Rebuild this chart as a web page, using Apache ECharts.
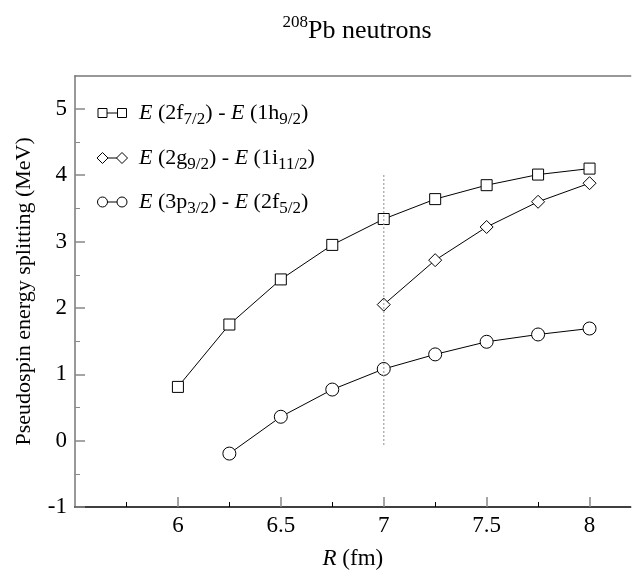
<!DOCTYPE html>
<html><head><meta charset="utf-8">
<script src="https://cdn.jsdelivr.net/npm/echarts@6/dist/echarts.min.js"></script>
<style>html,body{margin:0;padding:0;background:#fff}#c{width:632px;height:575px}</style>
</head><body><div id="c"></div>
<script>
// ---- data ----
const radiusFH = [6, 6.25, 6.5, 6.75, 7, 7.25, 7.5, 7.75, 8];
const splitFH  = [0.81, 1.75, 2.43, 2.95, 3.34, 3.64, 3.85, 4.01, 4.10];
const radiusGI = [7, 7.25, 7.5, 7.75, 8];
const splitGI  = [2.05, 2.72, 3.22, 3.60, 3.88];
const radiusPF = [6.25, 6.5, 6.75, 7, 7.25, 7.5, 7.75, 8];
const splitPF  = [-0.195, 0.36, 0.77, 1.08, 1.30, 1.49, 1.60, 1.69];
const refLineX = [7, 7];
const refLineY = [4.0, -0.1];
const xMajorTicks = [6, 6.5, 7, 7.5, 8];
const xMinorTicks = [5.75, 6.25, 6.75, 7.25, 7.75];
const yMajorTicks = [-1, 0, 1, 2, 3, 4, 5];
const yMinorTicks = [-0.5, 0.5, 1.5, 2.5, 3.5, 4.5];
const legendLabels = [
  '{i|E}{n| (2f}{s|7/2}{n|) - }{i|E}{n| (1h}{s|9/2}{n|)}',
  '{i|E}{n| (2g}{s|9/2}{n|) - }{i|E}{n| (1i}{s|11/2}{n|)}',
  '{i|E}{n| (3p}{s|3/2}{n|) - }{i|E}{n| (2f}{s|5/2}{n|)}'
];
const titleText = '{sup|208}{m|Pb neutrons}';

const zip = (xs, ys) => xs.map((x, i) => [x, ys[i]]);
const FONT = 'Liberation Serif';

const chart = echarts.init(document.getElementById('c'), null, {renderer: 'canvas'});

const symStyle = {color: '#fff', borderColor: '#000', borderWidth: 1};
function lineSeries(data, symbol, size) {
  return {
    type: 'line', data: data, symbol: symbol, symbolSize: size,
    lineStyle: {color: '#000', width: 1}, itemStyle: symStyle,
    showSymbol: true, animation: false, z: 3
  };
}

const legendRows = [113, 158, 202];
const graphics = [];
legendRows.forEach((y, k) => {
  graphics.push({type: 'line', shape: {x1: 102, y1: y, x2: 122, y2: y}, style: {stroke: '#000', lineWidth: 1}, z: 10});
  [102.5, 122].forEach(cx => {
    let el;
    if (k === 0) el = {type: 'rect', shape: {x: cx - 4.5, y: y - 4.5, width: 9, height: 9}};
    else if (k === 1) el = {type: 'polygon', shape: {points: [[cx, y - 5.5], [cx + 5.5, y], [cx, y + 5.5], [cx - 5.5, y]]}};
    else el = {type: 'circle', shape: {cx: cx, cy: y, r: 5}};
    el.style = {fill: '#fff', stroke: '#000', lineWidth: 1};
    el.z = 11;
    graphics.push(el);
  });
  graphics.push({
    type: 'text', x: 139, y: y, z: 11,
    style: {
      text: legendLabels[k], align: 'left', verticalAlign: 'middle',
      rich: {
        i: {fontFamily: FONT, fontStyle: 'italic', fontSize: 22, lineHeight: 30, fill: '#000'},
        n: {fontFamily: FONT, fontSize: 22, lineHeight: 30, fill: '#000'},
        s: {fontFamily: FONT, fontSize: 17, lineHeight: 13, verticalAlign: 'bottom', fill: '#000'}
      }
    }
  });
});
graphics.push({
  type: 'text', x: 357, y: 31, z: 11,
  style: {
    text: titleText, align: 'center', verticalAlign: 'middle',
    rich: {
      sup: {fontFamily: FONT, fontSize: 17, lineHeight: 14, verticalAlign: 'top', fill: '#000'},
      m: {fontFamily: FONT, fontSize: 26, lineHeight: 34, fill: '#000'}
    }
  }
});

const X_MIN = 5.5, X_MAX = 8.2;
const option = {
  backgroundColor: '#fff',
  animation: false,
  grid: {left: 75, top: 75.7, bottom: 60, right: 1.3, show: false},
  xAxis: [
    {
      type: 'value', min: X_MIN, max: X_MAX, position: 'bottom',
      name: '{i|R}{n| (fm)}', nameLocation: 'middle', nameGap: 40,
      nameTextStyle: {rich: {
        i: {fontFamily: FONT, fontStyle: 'italic', fontSize: 23, color: '#000'},
        n: {fontFamily: FONT, fontSize: 23, color: '#000'}
      }},
      axisLine: {show: true, onZero: false, lineStyle: {color: '#000', width: 1.5}},
      axisTick: {show: true, inside: true, length: 10, customValues: xMajorTicks, lineStyle: {color: '#888', width: 1.5}},
      splitLine: {show: false},
      axisLabel: {fontFamily: FONT, fontSize: 23, color: '#000', margin: 7, customValues: xMajorTicks}
    },
    {
      type: 'value', min: X_MIN, max: X_MAX, position: 'bottom', offset: 0,
      axisLine: {show: false, onZero: false},
      axisTick: {show: true, inside: true, length: 5, customValues: xMinorTicks, lineStyle: {color: '#000', width: 1}},
      axisLabel: {show: false}, splitLine: {show: false}
    },
    {
      type: 'value', min: X_MIN, max: X_MAX, position: 'top',
      axisLine: {show: true, onZero: false, lineStyle: {color: '#777', width: 1.5}},
      axisTick: {show: false}, axisLabel: {show: false}, splitLine: {show: false}
    }
  ],
  yAxis: [
    {
      type: 'value', min: -1, max: 5.5, position: 'left',
      name: 'Pseudospin energy splitting (MeV)', nameLocation: 'middle', nameGap: 40,
      nameTextStyle: {fontFamily: FONT, fontSize: 22, color: '#000'},
      axisLine: {show: true, onZero: false, lineStyle: {color: '#777', width: 1.5}},
      axisTick: {show: true, inside: true, length: 10, customValues: yMajorTicks, lineStyle: {color: '#888', width: 1.5}},
      splitLine: {show: false},
      axisLabel: {fontFamily: FONT, fontSize: 23, color: '#000', margin: 8, customValues: yMajorTicks}
    },
    {
      type: 'value', min: -1, max: 5.5, position: 'left', offset: 0,
      axisLine: {show: false, onZero: false},
      axisTick: {show: true, inside: true, length: 5, customValues: yMinorTicks, lineStyle: {color: '#888', width: 1}},
      axisLabel: {show: false}, splitLine: {show: false}
    }
  ],
  series: [
    lineSeries(zip(radiusFH, splitFH), 'rect', 11),
    lineSeries(zip(radiusGI, splitGI), 'diamond', 13),
    lineSeries(zip(radiusPF, splitPF), 'circle', 13),
    {
      type: 'line', data: zip(refLineX, refLineY), symbol: 'none', z: 5,
      lineStyle: {color: '#999', width: 1.5, type: [1.5, 2.5]}, animation: false, silent: true
    }
  ],
  graphic: graphics
};
chart.setOption(option);
</script></body></html>
